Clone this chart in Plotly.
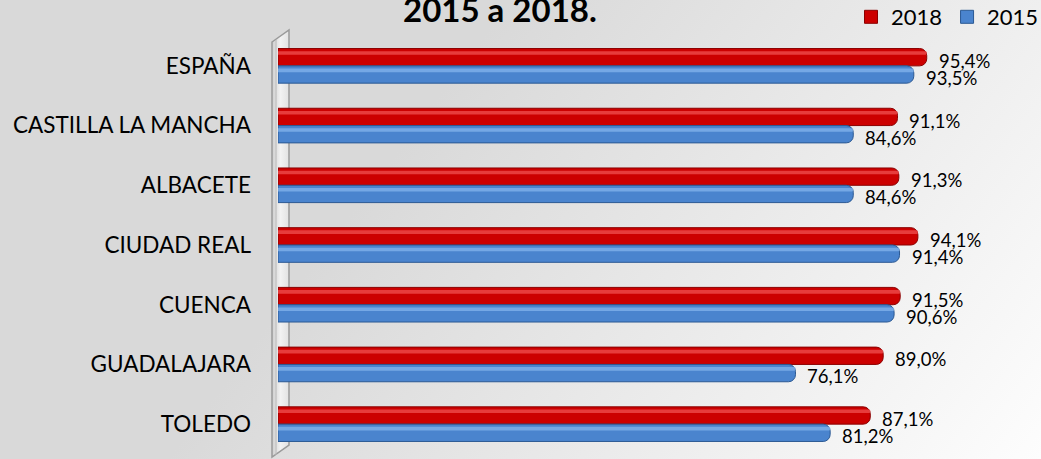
import base64
import plotly.graph_objects as go

categories = ["ESPAÑA", "CASTILLA LA MANCHA", "ALBACETE", "CIUDAD REAL",
              "CUENCA", "GUADALAJARA", "TOLEDO"]
values_2018 = [95.4, 91.1, 91.3, 94.1, 91.5, 89.0, 87.1]
values_2015 = [93.5, 84.6, 84.6, 91.4, 90.6, 76.1, 81.2]
series_names = ["2018", "2015"]
title_text = "2015 a 2018."

W, H = 1041, 459
ML, MR, MT, MB = 278, 83, 36, 5
PW, PH = W - ML - MR, H - MT - MB


def px(xp):
    return (xp - ML) / PW


def py(yp):
    return (H - MB - yp) / PH


RED, RED_LINE, RED_HI = "#CC0000", "#8A0000", "#F05050"
BLUE, BLUE_LINE, BLUE_HI = "#4A84CE", "#2B5993", "#84B4EC"
BW = 0.29
FONT = "Lato"

fig = go.Figure()

for name, vals, col, lc, off in [(series_names[0], values_2018, RED, RED_LINE, -BW),
                                  (series_names[1], values_2015, BLUE, BLUE_LINE, 0.0)]:
    fig.add_trace(go.Bar(
        name=name, y=categories, x=vals, orientation="h",
        offset=off, width=BW,
        marker=dict(color=col, line=dict(color=lc, width=1), cornerradius=7),
        hoverinfo="x+name", showlegend=False,
    ))

for vals, hc, off in [(values_2018, RED_HI, -BW), (values_2015, BLUE_HI, 0.0)]:
    fig.add_trace(go.Bar(
        y=categories, x=vals, orientation="h",
        offset=off + 0.045, width=0.06,
        marker=dict(color=hc, opacity=0.75, line=dict(width=0), cornerradius=2),
        showlegend=False, hoverinfo="skip",
    ))

# legend-only entries with square symbols
for name, col, lc in [(series_names[0], RED, RED_LINE), (series_names[1], BLUE, BLUE_LINE)]:
    fig.add_trace(go.Scatter(
        x=[None], y=[None], mode="markers", name=name,
        marker=dict(symbol="square", size=13, color=col, line=dict(color=lc, width=1)),
        showlegend=True,
    ))

annotations = []
for i, cat in enumerate(categories):
    for vals, ys in [(values_2018, 5), (values_2015, -12)]:
        annotations.append(dict(
            x=vals[i], y=cat, xref="x", yref="y",
            text=f"{vals[i]:.1f}%".replace(".", ","),
            showarrow=False, xanchor="left", xshift=10, yshift=ys,
            font=dict(family=FONT, size=18.5, color="#000000"),
        ))

annotations.append(dict(
    x=px(500), y=py(9), xref="paper", yref="paper",
    text=f"<b>{title_text}</b>", showarrow=False,
    xanchor="center", yanchor="middle",
    font=dict(family=FONT, size=33, color="#000000"),
))

svg = f'''<svg xmlns="http://www.w3.org/2000/svg" width="{W}" height="{H}" viewBox="0 0 {W} {H}" preserveAspectRatio="none">
<defs><linearGradient id="g" gradientUnits="userSpaceOnUse" x1="480" y1="40" x2="1041" y2="459">
<stop offset="0" stop-color="#D9D9D9"/><stop offset="1" stop-color="#FDFDFD"/>
</linearGradient>
<linearGradient id="w" x1="0" y1="0" x2="1" y2="0">
<stop offset="0" stop-color="#CFCFCF"/><stop offset="0.5" stop-color="#F2F2F2"/><stop offset="1" stop-color="#E2E2E2"/>
</linearGradient></defs>
<rect width="{W}" height="{H}" fill="url(#g)"/>
<path d="M272,42 L289,30 L289,445 L272,457 Z" fill="url(#w)" stroke="#9A9A9A" stroke-width="1.5"/>
<line x1="276" y1="40" x2="276" y2="455" stroke="#B8B8B8" stroke-width="1"/>
</svg>'''
src = "data:image/svg+xml;base64," + base64.b64encode(svg.encode()).decode()

fig.update_layout(
    width=W, height=H,
    margin=dict(l=ML, r=MR, t=MT, b=MB, autoexpand=False),
    barmode="overlay",
    paper_bgcolor="#D9D9D9", plot_bgcolor="rgba(0,0,0,0)",
    images=[dict(source=src, xref="paper", yref="paper",
                 x=px(0), y=py(0), sizex=W / PW, sizey=H / PH,
                 xanchor="left", yanchor="top", sizing="stretch", layer="below")],
    xaxis=dict(range=[0, 100], visible=False, fixedrange=True),
    yaxis=dict(categoryorder="array", categoryarray=categories,
               range=[6.5, -0.5], showgrid=False, zeroline=False, showline=False,
               ticks="", ticklabelstandoff=26, automargin=False,
               tickfont=dict(family=FONT, size=22.5, color="#000000")),
    legend=dict(orientation="h", x=px(1044), xanchor="right", y=py(-4), yanchor="top",
                bgcolor="rgba(0,0,0,0)", font=dict(family=FONT, size=22, color="#000000"),
                itemwidth=30, traceorder="normal"),
    annotations=annotations,
    showlegend=True,
)

fig.write_html("out.html",
               config={"displayModeBar": False},
               post_script="document.body.style.margin='0px';document.body.style.overflow='hidden';")
